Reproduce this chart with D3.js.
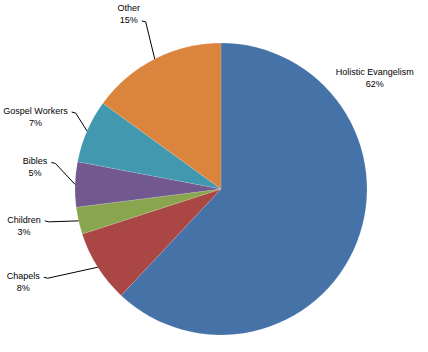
<!DOCTYPE html>
<html>
<head>
<meta charset="utf-8">
<script src="https://cdn.jsdelivr.net/npm/d3@7"></script>
<style>
  body { margin: 0; background: #fff; }
  svg text { font-family: "Liberation Sans", Arial, sans-serif; font-size: 9px; fill: #000; }
</style>
</head>
<body>
<svg id="chart" width="428" height="352"></svg>
<script>
// data, clockwise from 12 o'clock
var categories = ["Holistic Evangelism", "Chapels", "Children", "Bibles", "Gospel Workers", "Other"];
var values = [62, 8, 3, 5, 7, 15];
var colors = ["#4572A7", "#AA4643", "#89A54E", "#71588F", "#4198AF", "#DB843D"];

// label placement relative to the slice's outer mid-point (Excel-style manual layout)
var labelOffset = [[18, -168], [-74.5, 12], [-54.5, 2], [-40, -20], [-51.5, -17], [-26, -48]];
var attachRow = [null, 0, 0, 0, 0, 1]; // which text row the leader line leaves from

var width = +d3.select("#chart").attr("width"),
    height = +d3.select("#chart").attr("height");

var cx = 221, cy = 189, radius = 146;

var svg = d3.select("#chart")
    .append("g")
    .attr("transform", "translate(" + cx + "," + cy + ")");

var data = categories.map(function(c, i) { return { label: c, value: values[i], color: colors[i] }; });

var pie = d3.pie()
    .sort(null)
    .value(function(d) { return d.value; });

var arc = d3.arc()
    .innerRadius(0)
    .outerRadius(radius);

var edgeArc = d3.arc()
    .innerRadius(radius)
    .outerRadius(radius);

var arcs = pie(data);

svg.append("g").attr("class", "slices")
    .selectAll("path")
    .data(arcs)
    .enter().append("path")
    .attr("d", arc)
    .attr("fill", function(d) { return d.data.color; })
    .attr("stroke", "rgba(255,255,255,0.25)")
    .attr("stroke-width", 0.5);

var lineH = 12;
var labels = svg.append("g").attr("class", "labels");
var lines = svg.append("g").attr("class", "lines");

arcs.forEach(function(d, i) {
    var edge = edgeArc.centroid(d);
    var lx = edge[0] + labelOffset[i][0],
        ly = edge[1] + labelOffset[i][1];
    var rows = [d.data.label, Math.round(d.data.value) + "%"];
    var widths = [];
    rows.forEach(function(r, k) {
        var t = labels.append("text")
            .attr("x", lx)
            .attr("y", ly + k * lineH)
            .attr("text-anchor", "middle")
            .text(r);
        widths.push(t.node().getComputedTextLength());
    });
    if (attachRow[i] !== null) {
        var k = attachRow[i];
        var sx = lx + widths[k] / 2 + 4,
            sy = ly + k * lineH - 2;
        lines.append("polyline")
            .attr("points", [[sx, sy], [sx + 4, sy + 1], edge].join(" "))
            .attr("fill", "none")
            .attr("stroke", "#000")
            .attr("stroke-width", 1);
    }
});
</script>
</body>
</html>
